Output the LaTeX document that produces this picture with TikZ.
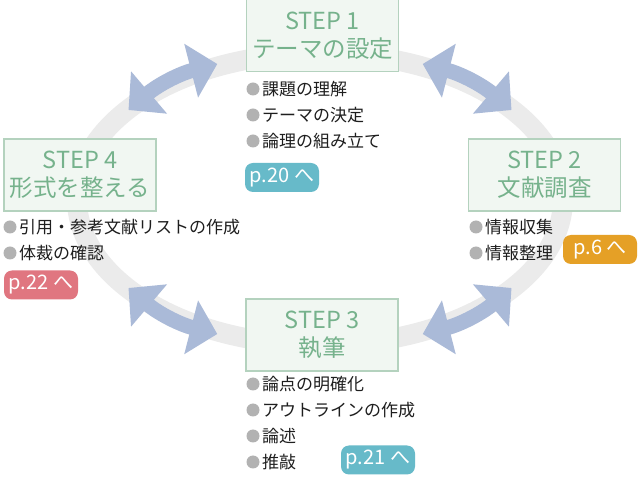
\documentclass[tikz,border=0pt]{standalone}
\usepackage{fontspec}
\setmainfont{Noto Sans CJK JP}
\usetikzlibrary{arrows.meta}
\definecolor{ringc}{RGB}{235,235,235}
\definecolor{arrc}{RGB}{170,186,216}
\definecolor{stepfill}{RGB}{241,247,242}
\definecolor{stepdraw}{RGB}{180,210,190}
\definecolor{steptext}{RGB}{118,178,140}
\definecolor{bulc}{RGB}{178,178,178}
\definecolor{tealc}{RGB}{103,186,201}
\definecolor{pinkc}{RGB}{224,118,128}
\definecolor{orangec}{RGB}{229,160,38}
\definecolor{itemtext}{RGB}{30,30,30}
\begin{document}
\begin{tikzpicture}[x=1pt,y=-1pt,
  ring/.style={draw=ringc,line width=20pt},
  cyc/.style={draw=arrc,line width=15pt,{Triangle[width=54pt,length=27pt]}-{Triangle[width=54pt,length=27pt]},bend left=13},
  stepbox/.style={draw=stepdraw,line width=1.2pt,fill=stepfill,text=steptext,align=center,
    minimum width=152pt,minimum height=72pt,inner sep=0pt,font=\fontsize{23.5}{28}\selectfont},
  bul/.style={circle,fill=bulc,minimum size=13pt,inner sep=0pt},
  item/.style={anchor=west,inner sep=0pt,text=itemtext,font=\fontsize{17}{19}\selectfont},
  badge/.style={rounded corners=8pt,text=white,minimum width=74pt,minimum height=29pt,inner sep=0pt,
    font=\fontsize{20}{21}\selectfont}]
\useasboundingbox (0,0) rectangle (641,478);
\fill[white] (0,0) rectangle (641,478);
% ring
\draw[ring] (320,199) ellipse [x radius=243pt, y radius=146pt];
% arrow end points
\coordinate (a1s) at (128.5,110);
\coordinate (a1e) at (217.3,64);
\coordinate (a2s) at (422.7,64);
\coordinate (a2e) at (511.5,110);
\coordinate (a3s) at (511.5,288);
\coordinate (a3e) at (422.7,334);
\coordinate (a4s) at (217.3,334);
\coordinate (a4e) at (128.5,288);
\draw[cyc] (a1s) to (a1e);
\draw[cyc] (a2s) to (a2e);
\draw[cyc] (a3s) to (a3e);
\draw[cyc] (a4s) to (a4e);
% steps
\node[stepbox] (s1) at (322.5,35.5) {STEP 1\\テーマの設定};
\node[stepbox] (s2) at (544.5,175) {STEP 2\\文献調査};
\node[stepbox] (s3) at (322,335) {STEP 3\\執筆};
\node[stepbox] (s4) at (80,175) {STEP 4\\形式を整える};
% step 1 items
\node[bul] (b1a) at (253,89) {};
\node[item] (t1a) at (262,89) {課題の理解};
\node[bul] (b1b) at (253,115) {};
\node[item] (t1b) at (262,115) {テーマの決定};
\node[bul] (b1c) at (253,141) {};
\node[item] (t1c) at (262,141) {論理の組み立て};
\node[badge,fill=tealc] (p1) at (282,177.5) {p.20 へ};
% step 2 items
\node[bul] (b2a) at (476,227) {};
\node[item] (t2a) at (485,227) {情報収集};
\node[bul] (b2b) at (476,253) {};
\node[item] (t2b) at (485,253) {情報整理};
\node[badge,fill=orangec] (p2) at (600,249.5) {p.6 へ};
% step 3 items
\node[bul] (b3a) at (253,384) {};
\node[item] (t3a) at (262,384) {論点の明確化};
\node[bul] (b3b) at (253,410) {};
\node[item] (t3b) at (262,410) {アウトラインの作成};
\node[bul] (b3c) at (253,436) {};
\node[item] (t3c) at (262,436) {論述};
\node[bul] (b3d) at (253,462) {};
\node[item] (t3d) at (262,462) {推敲};
\node[badge,fill=tealc] (p3) at (378,460) {p.21 へ};
% step 4 items
\node[bul] (b4a) at (10,227) {};
\node[item] (t4a) at (19,227) {引用・参考文献リストの作成};
\node[bul] (b4b) at (10,253) {};
\node[item] (t4b) at (19,253) {体裁の確認};
\node[badge,fill=pinkc] (p4) at (41,285) {p.22 へ};
\end{tikzpicture}
\end{document}
